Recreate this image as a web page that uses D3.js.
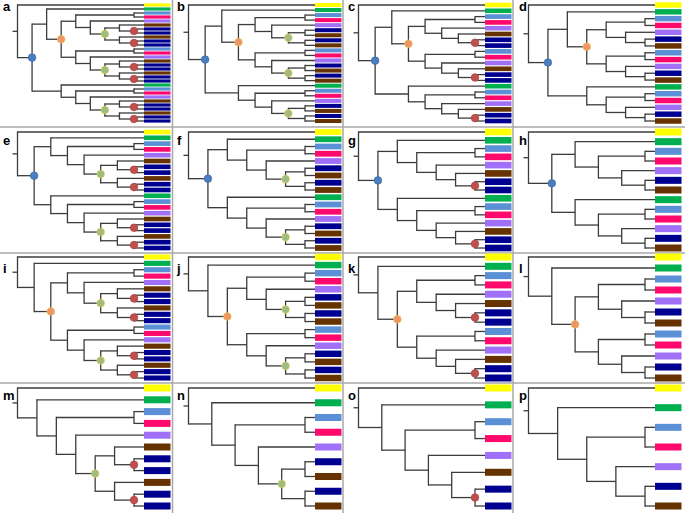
<!DOCTYPE html>
<html><head><meta charset="utf-8">
<script src="https://cdn.jsdelivr.net/npm/d3@7"></script>
<style>body{margin:0;background:#fff}svg{display:block}</style>
</head><body><svg id="chart" width="685" height="513"></svg>
<script>
// ---- data ----
const panelLabels = ["a","b","c","d","e","f","g","h","i","j","k","l","m","n","o","p"];
// Newick-like topologies. Leaves: Y yellow, G green, L light blue, P pink, U purple, R brown, N navy.
// Internal node marks: b blue, o orange, g green, r red.
const panelTrees = [
  "(Y,((G,(((L,P),(U,((R,(N,N)r),(R,(N,N)r))g)),((L,P),(U,((R,(N,N)r),(R,(N,N)r))g)))o),(G,((L,P),(U,((R,(N,N)r),(R,(N,N)r))g))))b)",
  "(Y,((G,(((L,P),(U,((N,R),(N,R))g)),((L,P),(U,((N,R),(N,R))g)))o),(G,((L,P),(U,((N,R),(N,R))g))))b)",
  "(Y,((G,(((L,P),(U,(R,(N,N)r))),((L,P),(U,(R,(N,N)r))))o),(G,((L,P),(U,(R,(N,N)r)))))b)",
  "(Y,((G,(((L,P),(U,(N,R))),((L,P),(U,(N,R))))o),(G,((L,P),(U,(N,R)))))b)",
  "(Y,((G,((L,P),(U,((R,(N,N)r),(R,(N,N)r))g))),(G,((L,P),(U,((R,(N,N)r),(R,(N,N)r))g))))b)",
  "(Y,((G,((L,P),(U,((N,R),(N,R))g))),(G,((L,P),(U,((N,R),(N,R))g))))b)",
  "(Y,((G,((L,P),(U,(R,(N,N)r)))),(G,((L,P),(U,(R,(N,N)r)))))b)",
  "(Y,((G,((L,P),(U,(N,R)))),(G,((L,P),(U,(N,R)))))b)",
  "(Y,(G,(((L,P),(U,((R,(N,N)r),(R,(N,N)r))g)),((L,P),(U,((R,(N,N)r),(R,(N,N)r))g)))o))",
  "(Y,(G,(((L,P),(U,((N,R),(N,R))g)),((L,P),(U,((N,R),(N,R))g)))o))",
  "(Y,(G,(((L,P),(U,(R,(N,N)r))),((L,P),(U,(R,(N,N)r))))o))",
  "(Y,(G,(((L,P),(U,(N,R))),((L,P),(U,(N,R))))o))",
  "(Y,(G,((L,P),(U,((R,(N,N)r),(R,(N,N)r))g))))",
  "(Y,(G,((L,P),(U,((N,R),(N,R))g))))",
  "(Y,(G,((L,P),(U,(R,(N,N)r)))))",
  "(Y,(G,((L,P),(U,(N,R)))))"
];
const leafCodes = ["Y","G","L","P","U","R","N"];
const leafColorList = ["#ffff00","#00b050","#5b8fd6","#ff0a6c","#a070f8","#663300","#000090"];
const markCodes = ["b","o","g","r"];
const markFillList = ["#4a7ebf","#ee9466","#9dbb82","#c0504d"];
const markStrokeList = ["#3d6aa3","#e8c04a","#e0d050","#a84442"];

// ---- layout ----
const svg = d3.select("#chart");
const colX = [0, 171, 341, 511];
const rowY = [0, 128, 254, 384];
const rowLeafTop = [5, 4, 3, 4];
const rowLeafBot = [121, 120, 124, 122];
const labelDX = [3, 6, 7, 8];
const labelBase = [11, 17, 19, 16];
const rootX = 17.5, h1X = 134, barX0 = 144, barX1 = 170.5;

const leafColor = d3.scaleOrdinal(leafCodes, leafColorList);
const markFill = d3.scaleOrdinal(markCodes, markFillList);
const markStroke = d3.scaleOrdinal(markCodes, markStrokeList);

function parseNewick(s) {
  let i = 0;
  function node() {
    if (s[i] === "(") {
      i++;
      const children = [node()];
      while (s[i] === ",") { i++; children.push(node()); }
      i++;
      let mark = "";
      while (i < s.length && /[a-z]/.test(s[i])) mark += s[i++];
      return {children, mark: mark || null};
    }
    return {leaf: s[i++]};
  }
  return node();
}

// dividers
const divCol = "#a8a8a8";
[127, 253, 383].forEach(y => svg.append("line").attr("x1",0).attr("x2",685).attr("y1",y).attr("y2",y)
  .attr("stroke",divCol).attr("stroke-width",1.5));
[172.5, 343, 513].forEach(x => svg.append("line").attr("x1",x).attr("x2",x).attr("y1",0).attr("y2",513)
  .attr("stroke",divCol).attr("stroke-width",1.5));

panelTrees.forEach((nw, k) => {
  const col = k % 4, row = Math.floor(k / 4);
  const g = svg.append("g").attr("transform", `translate(${colX[col]},${rowY[row]})`);
  const root = d3.hierarchy(parseNewick(nw));
  const leaves = root.leaves();
  const yS = d3.scalePoint().domain(d3.range(leaves.length)).range([rowLeafTop[row], rowLeafBot[row]]);
  const xS = d3.scaleLinear().domain([root.height, 1]).range([rootX, h1X]);
  leaves.forEach((l, i) => { l.py = yS(i); l.px = barX0; });
  root.eachAfter(n => {
    if (n.children) {
      n.py = d3.mean(n.children, c => c.py);
      n.px = xS(n.height);
    }
  });
  const pitch = yS.step();
  const bh = Math.min(7, pitch * 0.8);

  // bars
  g.selectAll("rect.bar").data(leaves).join("rect")
    .attr("x", barX0).attr("width", barX1 - barX0)
    .attr("y", d => d.py - bh / 2).attr("height", bh)
    .attr("fill", d => leafColor(d.data.leaf));

  const lineCol = "#3c3c3c", lw = 1.3;
  const internals = root.descendants().filter(n => n.children);
  // verticals
  g.selectAll("line.v").data(internals).join("line")
    .attr("x1", d => d.px).attr("x2", d => d.px)
    .attr("y1", d => d3.min(d.children, c => c.py)).attr("y2", d => d3.max(d.children, c => c.py))
    .attr("stroke", lineCol).attr("stroke-width", lw).attr("stroke-linecap","square");
  // horizontals
  g.selectAll("line.h").data(root.descendants().filter(n => n.parent)).join("line")
    .attr("x1", d => d.parent.px).attr("x2", d => d.px)
    .attr("y1", d => d.py).attr("y2", d => d.py)
    .attr("stroke", lineCol).attr("stroke-width", lw);
  // root stub
  g.append("line").attr("x1", root.px - 5).attr("x2", root.px)
    .attr("y1", root.py).attr("y2", root.py).attr("stroke", lineCol).attr("stroke-width", lw);
  // node marks
  g.selectAll("circle").data(internals.filter(n => n.data.mark)).join("circle")
    .attr("cx", d => d.px).attr("cy", d => d.py).attr("r", 3.8)
    .attr("fill", d => markFill(d.data.mark))
    .attr("stroke", d => markStroke(d.data.mark)).attr("stroke-width", 0.7);
  // label
  g.append("text").attr("x", labelDX[col]).attr("y", labelBase[row])
    .attr("font-family", "Liberation Sans, Arial, sans-serif").attr("font-weight", "bold")
    .attr("font-size", 13).attr("fill", "#000").text(panelLabels[k]);
});
</script></body></html>
